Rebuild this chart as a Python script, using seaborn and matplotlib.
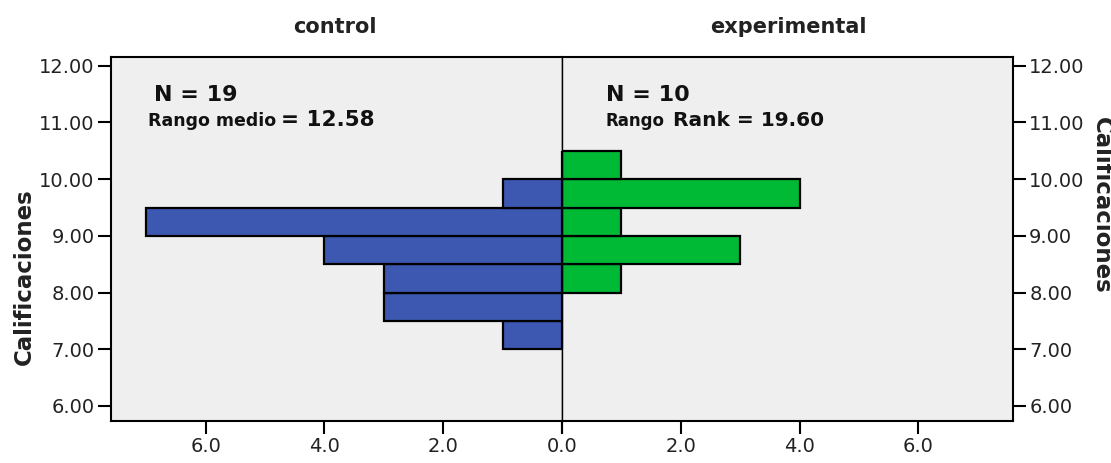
import numpy as np
import matplotlib
matplotlib.use("Agg")
import matplotlib.pyplot as plt
import seaborn as sns

# Grade bins (lower edge, width 0.5) and counts per group
bin_lower = [7.0, 7.5, 8.0, 8.5, 9.0, 9.5, 10.0]
control_counts = [1, 3, 3, 4, 7, 1, 0]
exp_counts = [0, 0, 1, 3, 1, 4, 1]
groups = ["control", "experimental"]
n_values = [19, 10]
mean_ranks = [12.58, 19.60]
y_ticks = [6, 7, 8, 9, 10, 11, 12]
x_ticks = [0, 2, 4, 6]

bin_width = 0.5
edges = bin_lower + [bin_lower[-1] + bin_width]
mids = [b + bin_width / 2 for b in bin_lower]

sns.set_style("white")
plt.rcParams["font.family"] = ["DejaVu Sans"]

fig = plt.figure(figsize=(11.11, 4.63), dpi=100)
ax_l = fig.add_axes([0.0996, 0.0914, 0.4063, 0.7861])
ax_r = fig.add_axes([0.5059, 0.0914, 0.4061, 0.7861])

bg = "#efefef"
blue = "#3c58b1"
green = "#00b935"

sns.histplot(y=mids, weights=control_counts, bins=edges, color=blue, alpha=1,
             edgecolor="black", linewidth=1.6, ax=ax_l)
sns.histplot(y=mids, weights=exp_counts, bins=edges, color=green, alpha=1,
             edgecolor="black", linewidth=1.6, ax=ax_r)

for ax in (ax_l, ax_r):
    ax.set_facecolor(bg)
    ax.set_ylim(5.74, 12.16)
    ax.set_xlim(0, 7.6)
    ax.set_xlabel("")
    ax.set_ylabel("")
    ax.set_yticks(y_ticks)
    ax.set_xticks(x_ticks)
    for s in ax.spines.values():
        s.set_visible(True)
        s.set_color("black")
        s.set_linewidth(1.5)
    ax.tick_params(length=9.5, width=1.5, color="black", labelsize=14,
                   labelcolor="#222222", pad=2)

ax_l.invert_xaxis()
ax_l.set_yticklabels([f"{v:.2f}" for v in y_ticks])
ax_l.set_xticklabels(["" if v == 0 else f"{v:.1f}" for v in x_ticks])
ax_l.tick_params(axis="y", left=True, right=False, labelleft=True, labelright=False)
ax_l.tick_params(axis="x", bottom=True)
ax_l.spines["right"].set_linewidth(1.0)

ax_r.yaxis.tick_right()
ax_r.set_yticklabels([f"{v:.2f}" for v in y_ticks])
ax_r.set_xticklabels([f"{v:.1f}" for v in x_ticks])
ax_r.tick_params(axis="y", left=False, right=True, labelleft=False, labelright=True)
ax_r.tick_params(axis="x", bottom=True)
ax_r.spines["left"].set_linewidth(1.0)

# panel titles
fig.text(335 / 1111, 1 - 27 / 463, groups[0], ha="center", va="center",
         fontsize=15, fontweight="bold", color="#222222")
fig.text(788 / 1111, 1 - 27 / 463, groups[1], ha="center", va="center",
         fontsize=15, fontweight="bold", color="#222222")

# y axis labels
fig.text(24 / 1111, 1 - 277 / 463, "Calificaciones", rotation=90, ha="center",
         va="center", fontsize=16.5, fontweight="bold", color="#222222")
fig.text(1101 / 1111, 1 - 205 / 463, "Calificaciones", rotation=270, ha="center",
         va="center", fontsize=16.5, fontweight="bold", color="#222222")

# annotations
ax_l.text(0.095, 0.878, f"N = {n_values[0]}", transform=ax_l.transAxes,
          fontsize=16, fontweight="bold", color="#111111", va="baseline")
ax_l.text(0.083, 0.81, "Rango medio", transform=ax_l.transAxes,
          fontsize=12.5, fontweight="bold", color="#111111", va="baseline")
ax_l.text(0.378, 0.81, f"= {mean_ranks[0]:.2f}", transform=ax_l.transAxes,
          fontsize=15.5, fontweight="bold", color="#111111", va="baseline")

ax_r.text(0.097, 0.878, f"N = {n_values[1]}", transform=ax_r.transAxes,
          fontsize=16, fontweight="bold", color="#111111", va="baseline")
ax_r.text(0.097, 0.81, "Rango", transform=ax_r.transAxes,
          fontsize=12, fontweight="bold", color="#111111", va="baseline")
ax_r.text(0.245, 0.81, f"Rank = {mean_ranks[1]:.2f}", transform=ax_r.transAxes,
          fontsize=14.5, fontweight="bold", color="#111111", va="baseline")

fig.savefig("out.png", dpi=100, facecolor="white")
